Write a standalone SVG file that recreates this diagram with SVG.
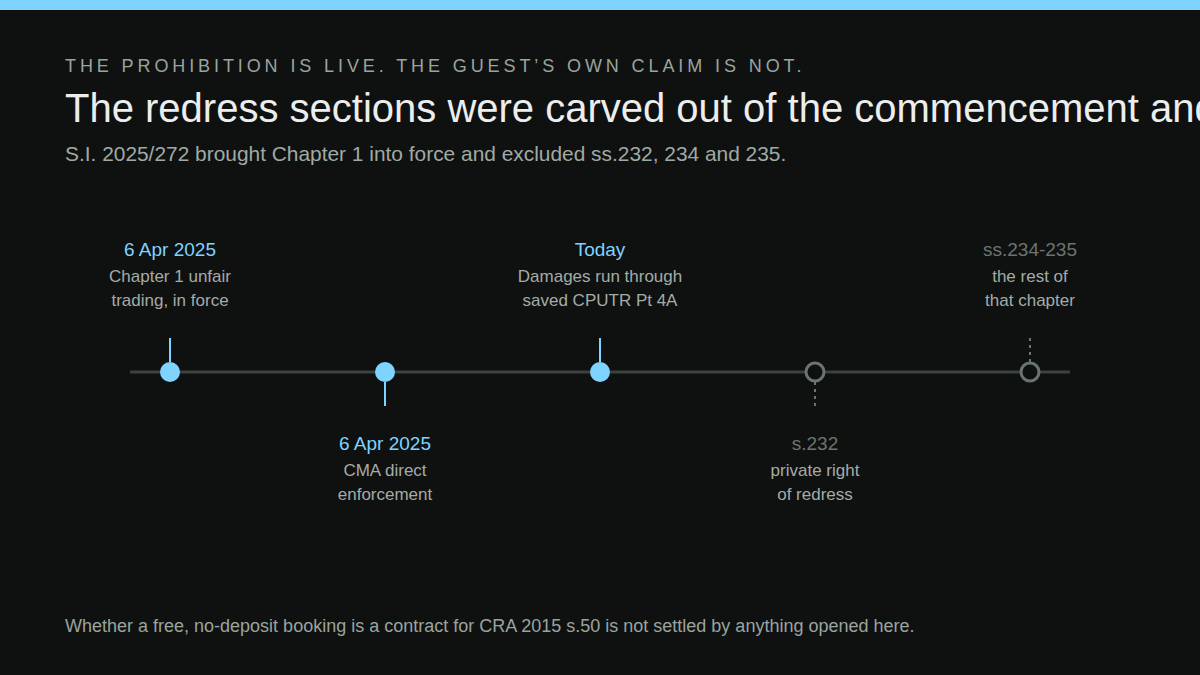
<svg xmlns="http://www.w3.org/2000/svg" width="1200" height="675" viewBox="0 0 1200 675">
<style>
text{font-family:"Liberation Sans",Arial,sans-serif}
.eyebrow{font-size:18px;letter-spacing:3.9px;fill:#9aa49e}
.title{font-size:40px;fill:#eceeed}
.sub{font-size:20.9px;fill:#a0aaa4}
.date{font-size:19px;fill:#7fd3ff;text-anchor:middle}
.dateoff{font-size:19px;fill:#6b756f;text-anchor:middle}
.lbl{font-size:17px;fill:#a3aca7;text-anchor:middle}
.foot{font-size:18px;fill:#9aa49e}
.axis{stroke:#3a433e;stroke-width:3}
.on{fill:#7fd3ff}
.off{fill:#0f1111;stroke:#6b756f;stroke-width:3}
.stem{stroke:#7fd3ff;stroke-width:2}
.stemoff{stroke:#6b756f;stroke-width:2;stroke-dasharray:3 4}
</style>
<rect width="1200" height="675" fill="#0f1111"/>
<rect width="1200" height="10" fill="#7fd3ff"/>
<text class="eyebrow" x="65" y="72">THE PROHIBITION IS LIVE. THE GUEST’S OWN CLAIM IS NOT.</text>
<text class="title" x="65" y="122">The redress sections were carved out of the commencement and</text>
<text class="sub" x="65" y="161">S.I. 2025/272 brought Chapter 1 into force and excluded ss.232, 234 and 235.</text>
<g id="connectors">
<line class="axis" x1="130" y1="372" x2="1070" y2="372"/>
<line class="stem" x1="170" y1="338" x2="170" y2="362"/>
<line class="stem" x1="385" y1="382" x2="385" y2="406"/>
<line class="stem" x1="600" y1="338" x2="600" y2="362"/>
<line class="stemoff" x1="815" y1="382" x2="815" y2="406"/>
<line class="stemoff" x1="1030" y1="338" x2="1030" y2="362"/>
</g>
<g id="n1">
<circle class="on" cx="170" cy="372" r="10"/>
<text class="date" x="170" y="256">6 Apr 2025</text>
<text class="lbl" x="170" y="282">Chapter 1 unfair</text>
<text class="lbl" x="170" y="306">trading, in force</text>
</g>
<g id="n2">
<circle class="on" cx="385" cy="372" r="10"/>
<text class="date" x="385" y="450">6 Apr 2025</text>
<text class="lbl" x="385" y="476">CMA direct</text>
<text class="lbl" x="385" y="500">enforcement</text>
</g>
<g id="n3">
<circle class="on" cx="600" cy="372" r="10"/>
<text class="date" x="600" y="256">Today</text>
<text class="lbl" x="600" y="282">Damages run through</text>
<text class="lbl" x="600" y="306">saved CPUTR Pt 4A</text>
</g>
<g id="n4">
<circle class="off" cx="815" cy="372" r="9"/>
<text class="dateoff" x="815" y="450">s.232</text>
<text class="lbl" x="815" y="476">private right</text>
<text class="lbl" x="815" y="500">of redress</text>
</g>
<g id="n5">
<circle class="off" cx="1030" cy="372" r="9"/>
<text class="dateoff" x="1030" y="256">ss.234-235</text>
<text class="lbl" x="1030" y="282">the rest of</text>
<text class="lbl" x="1030" y="306">that chapter</text>
</g>
<text class="foot" x="65" y="632">Whether a free, no-deposit booking is a contract for CRA 2015 s.50 is not settled by anything opened here.</text>
</svg>
